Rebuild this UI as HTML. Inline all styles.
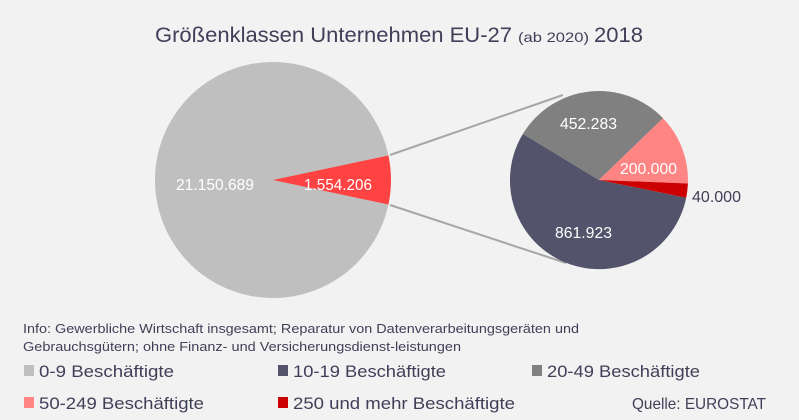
<!DOCTYPE html>
<html><head><meta charset="utf-8"><style>
html,body{margin:0;padding:0;background:#f2f2f2}
svg{display:block}
text{font-family:"Liberation Sans",sans-serif}
</style></head><body>
<svg width="799" height="420" viewBox="0 0 799 420" xmlns="http://www.w3.org/2000/svg">
<rect width="799" height="420" fill="#f2f2f2"/>
<text x="155" y="42" font-size="21" fill="#403f58" textLength="357" lengthAdjust="spacingAndGlyphs">Größenklassen Unternehmen EU-27</text>
<text x="518" y="42" font-size="14" fill="#403f58" textLength="71" lengthAdjust="spacingAndGlyphs">(ab 2020)</text>
<text x="594" y="42" font-size="21" fill="#403f58" textLength="49" lengthAdjust="spacingAndGlyphs">2018</text>
<!-- connector lines -->
<line x1="390" y1="155" x2="563" y2="95" stroke="#a6a6a6" stroke-width="2"/>
<line x1="390" y1="205" x2="566" y2="263" stroke="#a6a6a6" stroke-width="2"/>
<!-- main pie -->
<circle cx="273" cy="180" r="118" fill="#bfbfbf"/>
<path d="M273,180 L388.4,155.5 A118,118 0 0 1 388.4,204.5 Z" fill="#ff4343"/>
<!-- small pie -->
<g transform="translate(599,180)">
<path d="M0,0 L87.2,17.7 A89,89 0 1 1 -76.1,-46.1 Z" fill="#53536b"/>
<path d="M0,0 L-76.1,-46.1 A89,89 0 0 1 64,-61.8 Z" fill="#808080"/>
<path d="M0,0 L64,-61.8 A89,89 0 0 1 88.9,3.5 Z" fill="#ff8484"/>
<path d="M0,0 L88.9,3.5 A89,89 0 0 1 87.2,17.7 Z" fill="#cc0000"/>
</g>
<g font-size="16" fill="#ffffff">
<text x="176" y="190" textLength="78" lengthAdjust="spacingAndGlyphs">21.150.689</text>
<text x="304" y="190" textLength="68" lengthAdjust="spacingAndGlyphs">1.554.206</text>
<text x="560" y="129" textLength="57" lengthAdjust="spacingAndGlyphs">452.283</text>
<text x="620" y="174" textLength="57" lengthAdjust="spacingAndGlyphs">200.000</text>
<text x="555" y="238" textLength="57" lengthAdjust="spacingAndGlyphs">861.923</text>
</g>
<text x="692" y="202" font-size="16" fill="#403f58" textLength="49" lengthAdjust="spacingAndGlyphs">40.000</text>
<!-- info -->
<g font-size="13" fill="#403f58">
<text x="23" y="333" textLength="556" lengthAdjust="spacingAndGlyphs">Info: Gewerbliche Wirtschaft insgesamt; Reparatur von Datenverarbeitungsgeräten und</text>
<text x="23" y="351" textLength="438" lengthAdjust="spacingAndGlyphs">Gebrauchsgütern; ohne Finanz- und Versicherungsdienst-leistungen</text>
</g>
<!-- legend -->
<rect x="24" y="365" width="10" height="11" fill="#bfbfbf"/>
<rect x="278" y="365" width="10" height="11" fill="#53536b"/>
<rect x="532" y="365" width="10" height="11" fill="#808080"/>
<rect x="24" y="397" width="10" height="11" fill="#ff8484"/>
<rect x="278" y="397" width="10" height="11" fill="#cc0000"/>
<g font-size="17" fill="#403f58">
<text x="39" y="377" textLength="135" lengthAdjust="spacingAndGlyphs">0-9 Beschäftigte</text>
<text x="293" y="377" textLength="153" lengthAdjust="spacingAndGlyphs">10-19 Beschäftigte</text>
<text x="547" y="377" textLength="153" lengthAdjust="spacingAndGlyphs">20-49 Beschäftigte</text>
<text x="39" y="409" textLength="165" lengthAdjust="spacingAndGlyphs">50-249 Beschäftigte</text>
<text x="293" y="409" textLength="222" lengthAdjust="spacingAndGlyphs">250 und mehr Beschäftigte</text>
<text x="632" y="409" font-size="16" textLength="134" lengthAdjust="spacingAndGlyphs">Quelle: EUROSTAT</text>
</g>
</svg>
</body></html>
